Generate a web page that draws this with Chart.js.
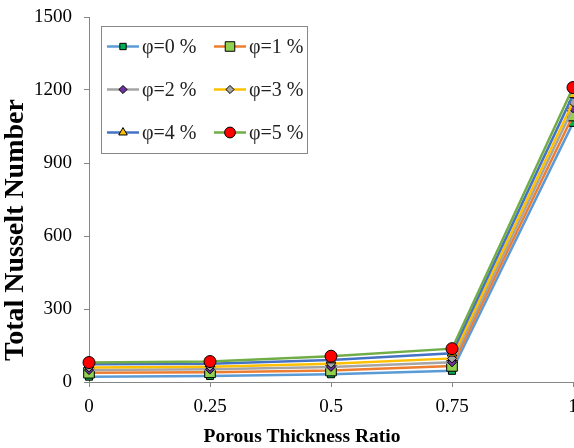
<!DOCTYPE html>
<html>
<head>
<meta charset="utf-8">
<script src="https://cdn.jsdelivr.net/npm/chart.js@4"></script>
<style>
  html, body { margin: 0; padding: 0; overflow: hidden; background: #fff; }
</style>
</head>
<body>
<canvas id="nusselt" width="600" height="448"></canvas>
<script>
// porous thickness ratio on the x axis
const ratios = ['0', '0.25', '0.5', '0.75', '1'];
const yTicks = [0, 300, 600, 900, 1200, 1500];

// total Nusselt number, one list per nanoparticle fraction
const phi0 = [22, 25, 32, 46, 1065];
const phi1 = [38, 40, 47, 66, 1095];
const phi2 = [49, 52, 62, 81, 1125];
const phi3 = [60, 63, 75, 97, 1150];
const phi4 = [73, 75, 90, 118, 1180];
const phi5 = [80, 84, 106, 137, 1210];

const labels = ['φ=0 %', 'φ=1 %', 'φ=2 %', 'φ=3 %', 'φ=4 %', 'φ=5 %'];
const series = [phi0, phi1, phi2, phi3, phi4, phi5];

const lineColors = ['#5B9BD5', '#ED7D31', '#A5A5A5', '#FFC000', '#4472C4', '#70AD47'];
const markColors = ['#00B050', '#92D050', '#7030A0', '#A6A6A6', '#FFC000', '#FF0000'];
const markStyles = ['rect', 'rect', 'rectRot', 'rectRot', 'triangle', 'circle'];
const markSizes = [5, 7.5, 4.5, 4.5, 5.5, 6];

const serif = "'Liberation Serif', 'Times New Roman', serif";
const axisGrey = '#868686';

const datasets = series.map((vals, i) => ({
  label: labels[i],
  data: vals,
  borderColor: lineColors[i],
  backgroundColor: markColors[i],
  borderWidth: 2.5,
  pointStyle: markStyles[i],
  pointRadius: markSizes[i],
  pointBackgroundColor: markColors[i],
  pointBorderColor: '#000',
  pointBorderWidth: 1,
  tension: 0,
  order: 5 - i
}));

// legend box inside the plot (2 columns x 3 rows) plus the two axis titles
const boxLegend = {
  id: 'boxLegend',
  afterDraw(chart) {
    const ctx = chart.ctx;
    const a = chart.chartArea;
    const x0 = a.left + 12, y0 = a.top + 9;
    const w = 206, h = 127;
    ctx.save();
    ctx.fillStyle = '#fff';
    ctx.fillRect(x0, y0, w, h);
    ctx.strokeStyle = '#888';
    ctx.lineWidth = 1;
    ctx.strokeRect(x0 + 0.5, y0 + 0.5, w, h);

    chart.data.datasets.forEach((ds, i) => {
      const col = i % 2, row = Math.floor(i / 2);
      const lx = x0 + 6 + col * 107;
      const ly = y0 + 20.5 + row * 43;
      ctx.strokeStyle = ds.borderColor;
      ctx.lineWidth = 2.5;
      ctx.beginPath();
      ctx.moveTo(lx, ly);
      ctx.lineTo(lx + 32, ly);
      ctx.stroke();
      ctx.fillStyle = ds.pointBackgroundColor;
      ctx.strokeStyle = '#000';
      ctx.lineWidth = 1;
      Chart.helpers.drawPoint(ctx, { pointStyle: ds.pointStyle, radius: ds.pointRadius * 0.9, borderWidth: 1 }, lx + 16, ly);
      ctx.fillStyle = '#222';
      ctx.font = '20px ' + serif;
      ctx.textBaseline = 'middle';
      ctx.textAlign = 'left';
      ctx.fillText(ds.label, lx + 35, ly + 1);
    });

    // axis titles
    ctx.fillStyle = '#000';
    ctx.textAlign = 'center';
    ctx.textBaseline = 'middle';
    ctx.font = 'bold 19.5px ' + serif;
    ctx.fillText('Porous Thickness Ratio', 302, 437);
    ctx.translate(16, 230);
    ctx.rotate(-Math.PI / 2);
    ctx.font = 'bold 28px ' + serif;
    ctx.fillText('Total Nusselt Number', 0, 0);
    ctx.restore();
  }
};

new Chart(document.getElementById('nusselt'), {
  type: 'line',
  data: { labels: ratios, datasets: datasets },
  plugins: [boxLegend],
  options: {
    responsive: false,
    animation: false,
    devicePixelRatio: 1,
    layout: { padding: { top: 17, right: 27, left: 0, bottom: 0 } },
    plugins: {
      legend: { display: false },
      tooltip: { enabled: false }
    },
    scales: {
      x: {
        type: 'category',
        offset: false,
        grid: { drawOnChartArea: false, drawTicks: true, tickLength: 5, color: axisGrey },
        border: { display: true, color: axisGrey, width: 1 },
        ticks: { color: '#000', padding: 9, font: { family: serif, size: 19 }, maxRotation: 0 },
        afterFit(scale) {
          scale.height = 66;
          scale.paddingLeft = 0;
          scale.paddingRight = 0;
        }
      },
      y: {
        min: 0,
        max: 1500,
        afterBuildTicks(scale) { scale.ticks = yTicks.map(v => ({ value: v })); },
        grid: { drawOnChartArea: false, drawTicks: true, tickLength: 5, color: axisGrey },
        border: { display: true, color: axisGrey, width: 1 },
        ticks: {
          color: '#000',
          padding: 12,
          font: { family: serif, size: 19 },
          callback: v => String(v)
        },
        afterFit(scale) {
          scale.width = 89;
          scale.paddingTop = 0;
          scale.paddingBottom = 0;
        }
      }
    }
  }
});
</script>
</body>
</html>
